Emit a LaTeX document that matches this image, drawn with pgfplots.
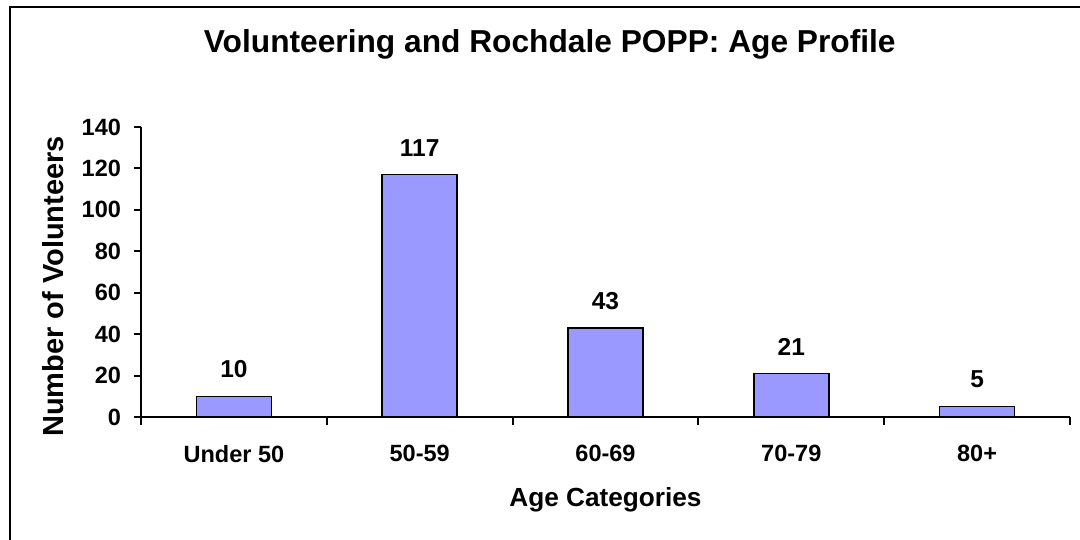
\documentclass[border=0pt]{standalone}
\usepackage{pgfplots}
\pgfplotsset{compat=1.18}
\usepackage{fontspec}
\setmainfont{Liberation Sans}
\definecolor{barblue}{HTML}{9999FF}
\begin{document}
\begin{tikzpicture}
\useasboundingbox (0,0) rectangle (540pt,270pt);
\fill[white] (0,0) rectangle (540pt,270pt);
\draw[line width=1pt] (5pt,-1pt) -- (5pt,266.5pt) -- (541pt,266.5pt);
\begin{axis}[
  at={(70.5pt,61.5pt)}, anchor=south west,
  scale only axis, width=464.5pt, height=145pt,
  clip=false,
  ybar, bar width=37.5pt,
  xmin=-0.5, xmax=4.5, ymin=0, ymax=140,
  axis x line=bottom, axis y line=left,
  axis line style={-, line width=1pt, black},
  xtick={0,1,2,3,4},
  xticklabels={Under 50,50-59,60-69,70-79,80+},
  minor xtick={-0.5,0.5,1.5,2.5,3.5,4.5},
  major x tick style={draw=none},
  minor x tick style={line width=1pt, black},
  minor tick length=4pt,
  ytick={0,20,...,140},
  y tick style={line width=1pt, black},
  major tick length=3.5pt,
  tick align=outside,
  /pgf/number format/assume math mode=true,
  tick label style={font=\fontsize{11.75}{13}\selectfont\bfseries},
  xticklabel style={yshift=-7pt},
  yticklabel style={xshift=-3pt},
  every axis title shift=0pt,
  title={Volunteering and Rochdale POPP: Age Profile},
  title style={at={(axis description cs:0.440,1.286)}, anchor=center, font=\fontsize{15.85}{17}\selectfont\bfseries},
  xlabel={Age Categories},
  xlabel style={at={(axis description cs:0.5,-0.285)}, anchor=center, font=\fontsize{13.1}{14}\selectfont\bfseries},
  ylabel={Number of Volunteers},
  ylabel style={at={(axis description cs:-0.0947,0.45)}, anchor=center, font=\fontsize{14.5}{16}\selectfont\bfseries},
  nodes near coords,
  every node near coord/.append style={anchor=center, yshift=13.5pt, font=\fontsize{12.25}{13}\selectfont\bfseries, black},
]
\addplot[fill=barblue, draw=black, line width=0.75pt] coordinates {(0,10) (1,117) (2,43) (3,21) (4,5)};
\end{axis}
\end{tikzpicture}
\end{document}
